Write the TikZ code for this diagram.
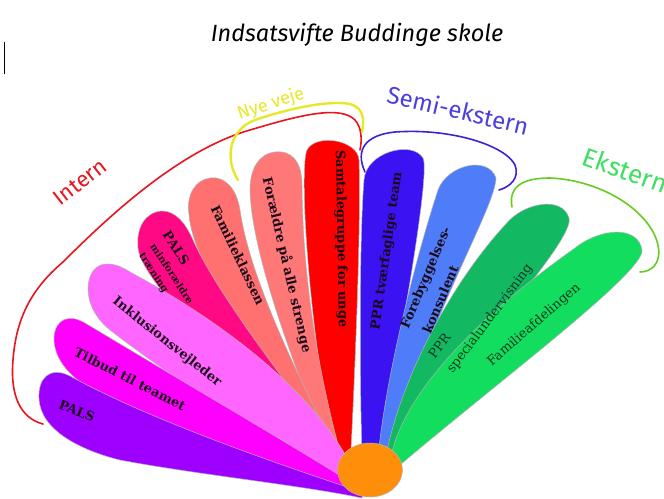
\documentclass[tikz,border=0pt]{standalone}
\usepackage{fontspec}
\setmainfont{DejaVu Serif}
\newfontfamily\hand{Fira Sans}
\definecolor{cPurple}{HTML}{9E00FF}
\definecolor{cMag}{HTML}{FF00FF}
\definecolor{cLight}{HTML}{FF66FF}
\definecolor{cPink}{HTML}{FF0A84}
\definecolor{cSalA}{HTML}{FF7070}
\definecolor{cSalB}{HTML}{FF7878}
\definecolor{cRed}{HTML}{FF0000}
\definecolor{cBlue}{HTML}{3B12F2}
\definecolor{cLBlue}{HTML}{4F7DF9}
\definecolor{cDGreen}{HTML}{12B862}
\definecolor{cGreen}{HTML}{12DD5F}
\definecolor{cOrange}{HTML}{FF8F0A}
\definecolor{tRed}{HTML}{E8141E}
\definecolor{tYellow}{HTML}{E8E82A}
\definecolor{tBlue}{HTML}{4B3FE0}
\definecolor{tGreen}{HTML}{3EE060}
\definecolor{bBlue}{HTML}{4020D0}
\definecolor{bGreen}{HTML}{66CC22}
\definecolor{tDark}{HTML}{1A0A1A}
\definecolor{tDGreen}{HTML}{0E3A1C}
\begin{document}
\begin{tikzpicture}[x=1pt,y=-1pt,
  petal/.style={draw=black!30, line width=0.5pt},
  lbl/.style={font=\fontsize{13}{15}\selectfont\bfseries, text=tDark, inner sep=0pt},
  lblr/.style={font=\fontsize{13}{15}\selectfont, text=tDGreen, inner sep=0pt},
  brace/.style={line width=1.6pt, line cap=round},
  hd/.style={font=\hand\fontsize{22}{26}\selectfont, inner sep=0pt}]
\useasboundingbox (0,0) rectangle (664,498);
\fill[white] (0,0) rectangle (664,498);

% title
\node[font=\hand\itshape\fontsize{23.5}{27}\selectfont] (title) at (357,35) {Indsatsvifte Buddinge skole};
\draw[line width=0.8pt] (4.5,42) -- (4.5,74);

% brackets
\draw[brace, tRed] (43,424) .. controls (20,418) and (10,395) .. (13,360)
  .. controls (16,320) and (30,290) .. (63,262)
  .. controls (110,215) and (180,150) .. (250,130)
  .. controls (300,115) and (340,105) .. (355,120)
  .. controls (362,128) and (362,140) .. (360,150);
\draw[brace, tYellow, line width=2.4pt] (238,180) .. controls (225,160) and (228,130) .. (255,120)
  .. controls (290,108) and (330,100) .. (350,104)
  .. controls (365,108) and (364,122) .. (362,132);
\draw[brace, bBlue] (365,172) .. controls (355,150) and (365,135) .. (395,132)
  .. controls (450,128) and (505,145) .. (515,165)
  .. controls (520,178) and (510,187) .. (499,190);
\draw[brace, bGreen] (512,207) .. controls (508,185) and (525,178) .. (550,178)
  .. controls (600,180) and (650,210) .. (658,245)
  .. controls (662,265) and (650,272) .. (640,272);

% group labels
\node[hd, text=tRed, rotate=38] (intern) at (80,182) {Intern};
\node[hd, text=tYellow, rotate=18, font=\hand\fontsize{18}{21}\selectfont] (nye) at (271,104) {Nye veje};
\node[hd, text=tBlue, rotate=-13, font=\hand\fontsize{24}{27}\selectfont] (semi) at (458,110) {Semi-ekstern};
\node[hd, text=tGreen, rotate=-20, anchor=west, font=\hand\fontsize{26}{29}\selectfont] (ekstern) at (584,155) {Ekstern};

% petals, centre first
\filldraw[cRed, petal] (350,470) .. controls (356,350) and (361,220) .. (359,160)
  .. controls (358,140) and (316,133) .. (307,150)
  .. controls (300,165) and (305,300) .. (336,470) -- cycle;
\filldraw[fill=cSalB, petal] (345,470) .. controls (325,400) and (303,300) .. (302,185)
  .. controls (302,160) and (290,150) .. (275,152)
  .. controls (258,154) and (250,170) .. (250,190)
  .. controls (252,260) and (300,380) .. (335,470) -- cycle;
\filldraw[fill=cSalA, petal] (345,470) .. controls (300,380) and (250,280) .. (240,210)
  .. controls (236,185) and (222,176) .. (210,178)
  .. controls (195,180) and (186,195) .. (189,215)
  .. controls (195,280) and (290,400) .. (335,472) -- cycle;
\filldraw[fill=cPink, petal] (355,475) .. controls (300,400) and (220,300) .. (193,240)
  .. controls (185,222) and (175,211) .. (162,211)
  .. controls (145,212) and (136,228) .. (138,248)
  .. controls (142,290) and (280,410) .. (345,478) -- cycle;
\filldraw[fill=cLight, petal] (358,480) .. controls (320,390) and (210,315) .. (130,272)
  .. controls (115,262) and (95,258) .. (89,280)
  .. controls (85,300) and (95,318) .. (110,330)
  .. controls (200,400) and (310,460) .. (355,488) -- cycle;
\filldraw[fill=cMag, petal] (360,488) .. controls (300,450) and (180,380) .. (85,323)
  .. controls (70,314) and (55,318) .. (54,338)
  .. controls (54,360) and (70,378) .. (100,395)
  .. controls (200,445) and (320,485) .. (360,495) -- cycle;
\filldraw[fill=cPurple, petal] (362,492) .. controls (280,465) and (150,420) .. (70,376)
  .. controls (50,366) and (38,378) .. (39,398)
  .. controls (40,430) and (80,450) .. (120,460)
  .. controls (200,475) and (300,485) .. (362,498) -- cycle;
\filldraw[fill=cBlue, petal] (362,455) .. controls (359,350) and (360,230) .. (364,180)
  .. controls (366,152) and (412,140) .. (423,158)
  .. controls (430,172) and (405,320) .. (378,455) -- cycle;
\filldraw[fill=cLBlue, petal] (378,458) .. controls (385,380) and (415,260) .. (438,190)
  .. controls (447,165) and (488,155) .. (496,178)
  .. controls (495,210) and (425,320) .. (392,458) -- cycle;
\filldraw[fill=cDGreen, petal] (385,460) .. controls (400,380) and (450,285) .. (505,225)
  .. controls (522,203) and (562,195) .. (569,218)
  .. controls (575,240) and (470,350) .. (398,458) -- cycle;
\filldraw[fill=cGreen, petal] (390,462) .. controls (400,395) and (480,315) .. (575,248)
  .. controls (600,228) and (638,225) .. (642,250)
  .. controls (645,272) and (500,380) .. (400,465) -- cycle;

% hub
\filldraw[fill=cOrange, draw=black!30, line width=0.5pt] (370,470) ellipse [x radius=32.5pt, y radius=27pt];
\coordinate (hub) at (370,470);

% petal labels
\node[lbl, rotate=-22] (pals) at (77,411) {PALS};
\node[lbl, rotate=-27] (tilbud) at (130,379) {Tilbud til teamet};
\node[lbl, rotate=-38.5] (inkl) at (167,342) {Inklusionsvejleder};
\node[lbl, rotate=-57, anchor=west] (palsm) at (166,232) {PALS};
\node[lbl, rotate=-57, anchor=west, font=\fontsize{10}{12}\selectfont\bfseries] (minf) at (153,244) {minforældre};
\node[lbl, rotate=-57, anchor=west, font=\fontsize{10}{12}\selectfont\bfseries] (traen) at (141,254) {træning};
\node[lbl, rotate=-64.5] (famk) at (238,255) {Familieklassen};
\node[lbl, rotate=-77] (foraeld) at (287,265) {Forældre på alle strenge};
\node[lbl, rotate=-89] (samtale) at (341,239) {Samtalegruppe for unge};
\node[lbl, rotate=82] (ppr) at (387,251) {PPR tværfaglige team};
\node[lbl, rotate=67, anchor=west] (foreb) at (405,328) {Forebyggelses-};
\node[lbl, rotate=67, anchor=west] (kons) at (426,333) {konsulent};
\node[lblr, rotate=53, anchor=west] (pprs) at (431,357) {PPR};
\node[lblr, rotate=53, anchor=west] (spec) at (450,372) {specialundervisning};
\node[lblr, rotate=41] (famaf) at (534,325) {Familieafdelingen};
\end{tikzpicture}
\end{document}
